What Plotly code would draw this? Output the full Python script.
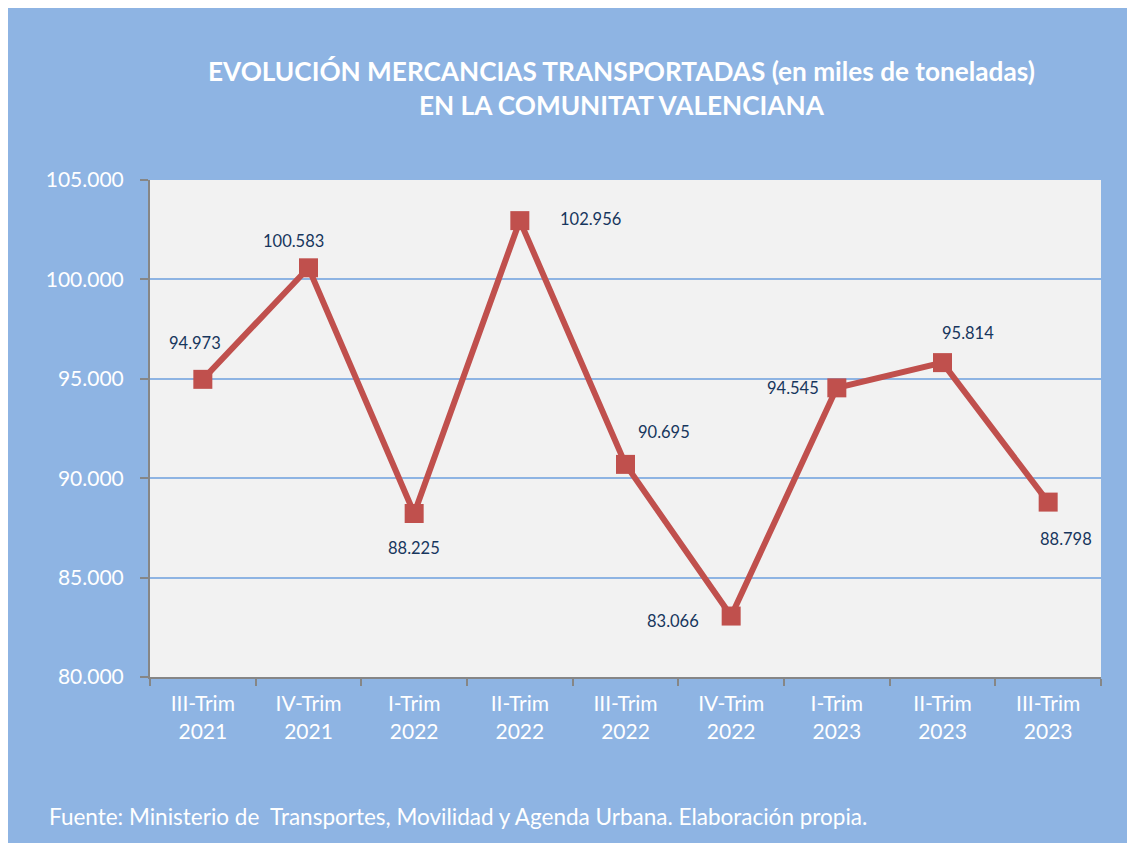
import plotly.graph_objects as go

categories = ["III-Trim<br>2021", "IV-Trim<br>2021", "I-Trim<br>2022", "II-Trim<br>2022",
              "III-Trim<br>2022", "IV-Trim<br>2022", "I-Trim<br>2023", "II-Trim<br>2023",
              "III-Trim<br>2023"]
values = [94973, 100583, 88225, 102956, 90695, 83066, 94545, 95814, 88798]
y_ticks = [80000, 85000, 90000, 95000, 100000, 105000]
# label offsets in pixels (dx, dy) relative to the marker
label_dx = [-8, -15, 0, 71, 38, -58, -44, 25, 18]
label_dy = [-36, -27, 35, -2, -32, 5, 0, -30, 37]

BLUE = "#8EB4E3"
LINE = "#C0504D"
FONT = "Lato"

def fmt(v):
    return f"{v:,}".replace(",", ".")

# helpers: screenshot pixel -> paper coordinates (page has an 8px body margin)
def px_x(p):
    return (p - 150) / 951

def px_y(p):
    return (677 - p) / 497

fig = go.Figure()
fig.add_trace(go.Scatter(
    x=categories, y=values, mode="lines+markers",
    line=dict(color=LINE, width=6),
    marker=dict(symbol="square", size=19, color=LINE),
    hoverinfo="skip", showlegend=False,
))

annotations = []
for c, v, dx, dy in zip(categories, values, label_dx, label_dy):
    annotations.append(dict(
        x=c, y=v, xref="x", yref="y", text=fmt(v), showarrow=False,
        xshift=dx, yshift=-dy, font=dict(family=FONT, size=16.5, color="#17365D"),
    ))

annotations.append(dict(
    x=px_x(621), y=px_y(88), xref="paper", yref="paper", xanchor="center", yanchor="middle",
    text="<b>EVOLUCIÓN MERCANCIAS TRANSPORTADAS (en miles de toneladas)<br>EN LA COMUNITAT VALENCIANA</b>",
    showarrow=False, font=dict(family=FONT, size=26.2, color="white"),
))

annotations.append(dict(
    x=px_x(47), y=px_y(816), xref="paper", yref="paper",
    xanchor="left", yanchor="middle", showarrow=False,
    text="Fuente: Ministerio de  Transportes, Movilidad y Agenda Urbana. Elaboración propia.",
    font=dict(family=FONT, size=22.5, color="white"),
))

fig.update_layout(
    width=1135, height=843,
    margin=dict(l=142, r=42, t=172, b=174),
    paper_bgcolor=BLUE, plot_bgcolor="#F2F2F2",
    separators=",.",
    font=dict(family=FONT, color="white", size=21),
    annotations=annotations,
    xaxis=dict(
        type="category", tickson="boundaries", ticks="outside", ticklen=7,
        tickcolor="#868686", tickwidth=2, showline=True, linecolor="#868686", linewidth=2,
        showgrid=False, tickfont=dict(family=FONT, size=21, color="white"),
        range=[-0.5, len(categories) - 0.5], ticklabelstandoff=7,
    ),
    yaxis=dict(
        range=[80000, 105000], tickvals=y_ticks, ticktext=[fmt(t) for t in y_ticks],
        ticks="outside", ticklen=8, tickcolor="#868686", tickwidth=2,
        showline=True, linecolor="#868686", linewidth=2,
        gridcolor=BLUE, gridwidth=1.5, zeroline=False,
        tickfont=dict(family=FONT, size=21, color="white"), ticklabelstandoff=12,
    ),
)

fig.write_html("out.html")
